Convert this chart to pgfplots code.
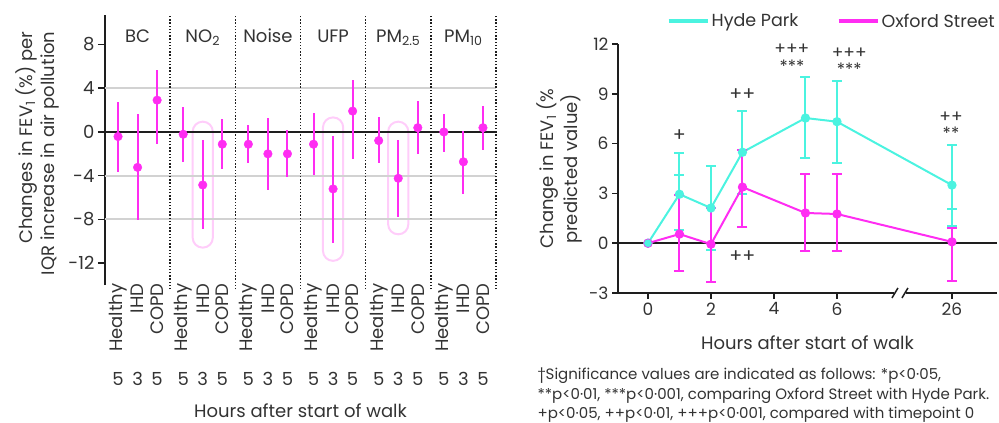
\documentclass[border=0pt]{standalone}
\usepackage{fontspec}
\setmainfont{Poppins}
\usepackage{pgfplots}
\pgfplotsset{compat=1.18}
\definecolor{mag}{RGB}{255,45,242}
\definecolor{cyn}{RGB}{75,243,224}
\definecolor{capsule}{RGB}{255,205,250}
\definecolor{txt}{RGB}{51,51,51}
\definecolor{gridc}{RGB}{210,210,210}
\definecolor{axc}{RGB}{30,30,30}

\begin{document}
\begin{tikzpicture}[font=\fontsize{18}{21}\selectfont, text=txt]
\useasboundingbox (0,0) rectangle (999pt,423pt);

% ---------------- left panel ----------------
\begin{axis}[
  at={(105pt,138pt)}, anchor=south west,
  scale only axis, width=391pt, height=270pt,
  xmin=0, xmax=60, ymin=-14, ymax=10.7,
  clip=false,
  axis y line*=left, axis x line*=bottom,
  x axis line style={draw=none},
  y axis line style={line width=1.8pt, axc},
  xtick={2,5,8,12,15,18,22,25,28,32,35,38,42,45,48,52,55,58},
  xticklabels={Healthy,IHD,COPD,Healthy,IHD,COPD,Healthy,IHD,COPD,
               Healthy,IHD,COPD,Healthy,IHD,COPD,Healthy,IHD,COPD},
  xtick style={draw=none},
  xticklabel style={rotate=90, anchor=east},
  xticklabel shift=-12pt,
  ytick={-12,-8,-4,0,4,8},
  yticklabels={-12,-8,-4,0,4,8},
  ytick style={line width=1.5pt, axc},
  tick align=outside, major tick length=7pt,
  tick label style={font=\fontsize{18}{21}\selectfont, text=txt},
  xlabel={Hours after start of walk},
  xlabel style={at={(axis description cs:0.5,0)}, anchor=base, yshift=-132.7pt},
]
% highlighted groups
\draw[capsule, line width=2pt, rounded corners=10pt] (axis cs:13.45,0.94) rectangle (axis cs:16.55,-10.58);
\draw[capsule, line width=2pt, rounded corners=10pt] (axis cs:33.45,1.33) rectangle (axis cs:36.55,-11.79);
\draw[capsule, line width=2pt, rounded corners=10pt] (axis cs:43.45,0.94) rectangle (axis cs:46.55,-9.36);
% grid lines and zero line
\draw[gridc, line width=2pt] (axis cs:0,4) -- (axis cs:60,4);
\draw[gridc, line width=2pt] (axis cs:0,-4) -- (axis cs:60,-4);
\draw[gridc, line width=2pt] (axis cs:0,-8) -- (axis cs:60,-8);
\draw[axc, line width=2.2pt] (axis cs:0,0) -- (axis cs:60,0);
% dotted group dividers
\pgfplotsinvokeforeach{10,20,30,40,50,60}{
  \draw[axc, line width=1.6pt, dash pattern=on 1.3pt off 1.9pt] (axis cs:#1,-14.4) -- (axis cs:#1,10.7);
}
\addplot[mag, only marks, mark=*, mark size=4.3pt,
  error bars/.cd, y dir=both, y explicit, error mark=none,
  error bar style={line width=2pt, mag}]
coordinates {
  (2,-0.42)  += (0,3.18) -= (0,3.25)
  (5,-3.24)  += (0,4.88) -= (0,4.85)
  (8,2.91)   += (0,2.79) -= (0,4.03)
  (12,-0.21) += (0,2.51) -= (0,2.55)
  (15,-4.85) += (0,4.12) -= (0,4.06)
  (18,-1.12) += (0,2.33) -= (0,2.27)
  (22,-1.12) += (0,1.73) -= (0,1.73)
  (25,-2.00) += (0,3.30) -= (0,3.33)
  (28,-2.00) += (0,2.18) -= (0,2.15)
  (32,-1.12) += (0,2.88) -= (0,2.85)
  (35,-5.21) += (0,4.85) -= (0,4.91)
  (38,1.91)  += (0,2.82) -= (0,4.36)
  (42,-0.79) += (0,2.12) -= (0,2.06)
  (45,-4.24) += (0,3.51) -= (0,3.52)
  (48,0.39)  += (0,2.43) -= (0,2.42)
  (52,0.00)  += (0,1.64) -= (0,1.79)
  (55,-2.73) += (0,2.85) -= (0,2.91)
  (58,0.39)  += (0,2.00) -= (0,2.03)
};
% group titles
\node[anchor=base] at ([yshift=-27.3pt]axis cs:5,10.7) {BC};
\node[anchor=base] at ([yshift=-27.3pt]axis cs:15,10.7) {NO\textsubscript{2}};
\node[anchor=base] at ([yshift=-27.3pt]axis cs:25,10.7) {Noise};
\node[anchor=base] at ([yshift=-27.3pt]axis cs:35,10.7) {UFP};
\node[anchor=base] at ([yshift=-27.3pt]axis cs:45,10.7) {PM\textsubscript{2.5}};
\node[anchor=base] at ([yshift=-27.3pt]axis cs:55,10.7) {PM\textsubscript{10}};
% hours row
\pgfplotsinvokeforeach{2,8,12,18,22,28,32,38,42,48,52,58}{
  \node[anchor=base] at ([yshift=-100pt]axis cs:#1,-14) {5};
}
\pgfplotsinvokeforeach{5,15,25,35,45,55}{
  \node[anchor=base] at ([yshift=-100pt]axis cs:#1,-14) {3};
}
\end{axis}

\node[rotate=90, anchor=base east] at (32pt,395pt) {Changes in FEV\textsubscript{1} (\%) per};
\node[rotate=90, anchor=base east] at (54pt,395pt) {IQR increase in air pollution};

% ---------------- right panel ----------------
\begin{axis}[
  at={(618pt,130pt)}, anchor=south west,
  scale only axis, width=379pt, height=249pt,
  xmin=-0.95, xmax=11.08, ymin=-3, ymax=12,
  clip=false,
  axis x line*=bottom, axis y line*=left,
  axis line style={line width=1.8pt, axc},
  xtick={0,2,4,6,9.65}, xticklabels={0,2,4,6,26},
  ytick={-3,0,3,6,9,12}, yticklabels={-3,0,3,6,9,12},
  tick align=outside, major tick length=6pt,
  tick style={line width=1.5pt, axc},
  tick label style={font=\fontsize{17}{20}\selectfont, text=txt},
  xlabel={Hours after start of walk},
  xlabel style={at={(axis description cs:0.5,0)}, anchor=base, yshift=-56.3pt},
  legend columns=2,
  legend style={draw=none, fill=none, at={(rel axis cs:0.12,1.092)}, anchor=west,
    font=\fontsize{17.5}{20}\selectfont,
    /tikz/every even column/.append style={column sep=36pt}},
  legend image code/.code={\draw[#1, line width=4pt] (0pt,0pt) -- (39pt,0pt);},
]
\draw[axc, line width=2.2pt] (axis cs:-0.95,0) -- (axis cs:11.08,0);
\addplot[cyn, line width=2pt, mark=*, mark size=3.6pt,
  error bars/.cd, y dir=both, y explicit,
  error bar style={line width=2pt, cyn},
  error mark options={rotate=90, cyn, mark size=5pt, line width=2pt}]
coordinates {
  (0,0)
  (1,2.95)  += (0,2.50) -= (0,2.17)
  (2,2.12)  += (0,2.52) -= (0,2.50)
  (3,5.48)  += (0,2.50) -= (0,2.50)
  (5,7.54)  += (0,2.48) -= (0,2.42)
  (6,7.32)  += (0,2.48) -= (0,2.48)
  (9.65,3.50) += (0,2.44) -= (0,2.46)
};
\addlegendentry{Hyde Park}
\addplot[mag, line width=2pt, mark=*, mark size=3.6pt,
  error bars/.cd, y dir=both, y explicit,
  error bar style={line width=2pt, mag},
  error mark options={rotate=90, mag, mark size=5pt, line width=2pt}]
coordinates {
  (0,0)
  (1,0.55)  += (0,2.33) -= (0,2.21)
  (2,-0.06) += (0,2.20) -= (0,2.30)
  (3,3.38)  += (0,2.26) -= (0,2.40)
  (5,1.82)  += (0,2.34) -= (0,2.28)
  (6,1.76)  += (0,2.40) -= (0,2.22)
  (9.65,0.08) += (0,0.84) -= (0,2.36)
};
\addlegendentry{Oxford Street}
% extra caps on the Hyde Park bars
\addplot[forget plot, cyn, line width=2pt, mark=none,
  error bars/.cd, y dir=plus, y explicit,
  error bar style={line width=2pt, cyn},
  error mark options={rotate=90, cyn, mark size=5pt, line width=2pt}]
coordinates {(1,2.95) += (0,1.17)};
\addplot[forget plot, cyn, line width=2pt, mark=none,
  error bars/.cd, y dir=minus, y explicit,
  error bar style={line width=2pt, cyn},
  error mark options={rotate=90, cyn, mark size=5pt, line width=2pt}]
coordinates {(9.65,3.50) -= (0,1.42)};
\addplot[forget plot, cyn, only marks, mark=*, mark size=3.6pt] coordinates {(0,0)};
% significance marks
\begin{scope}[every node/.style={inner sep=0pt, align=center, font=\fontsize{19}{19}\selectfont}]
\node at (axis cs:1,6.5) {+};
\node at (axis cs:3,8.97) {++};
\node at (axis cs:3,-0.82) {++};
\end{scope}
\begin{scope}[every node/.style={inner sep=0pt, align=center, font=\fontsize{17}{17.5}\selectfont}]
\node[anchor=south] at (axis cs:4.57,10.29) {+++\\***};
\node[anchor=south] at (axis cs:6.39,10.09) {+++\\***};
\node[anchor=south] at (axis cs:9.62,6.23) {++\\**};
\end{scope}
\coordinate (brk) at (axis cs:8,-3);
\end{axis}

% axis break on the time axis
\fill[white] ([xshift=-6pt,yshift=-3pt]brk) rectangle ([xshift=6pt,yshift=3pt]brk);
\draw[axc, line width=1.5pt] ([xshift=-8pt,yshift=-5pt]brk) -- ([xshift=-2pt,yshift=5pt]brk);
\draw[axc, line width=1.5pt] ([xshift=2pt,yshift=-5pt]brk) -- ([xshift=8pt,yshift=5pt]brk);

\node[rotate=90, anchor=base] at (553pt,254.5pt) {Change in FEV\textsubscript{1} (\%};
\node[rotate=90, anchor=base] at (577pt,254pt) {predicted value)};

% footnote
\begin{scope}[every node/.style={anchor=base west, font=\fontsize{15}{17}\selectfont}]
\node at (534pt,43.5pt) {†Significance values are indicated as follows: *p<0·05,};
\node at (534pt,23.5pt) {**p<0·01, ***p<0·001, comparing Oxford Street with Hyde Park.};
\node at (534pt,4pt) {+p<0·05, ++p<0·01, +++p<0·001, compared with timepoint 0};
\end{scope}
\end{tikzpicture}
\end{document}
